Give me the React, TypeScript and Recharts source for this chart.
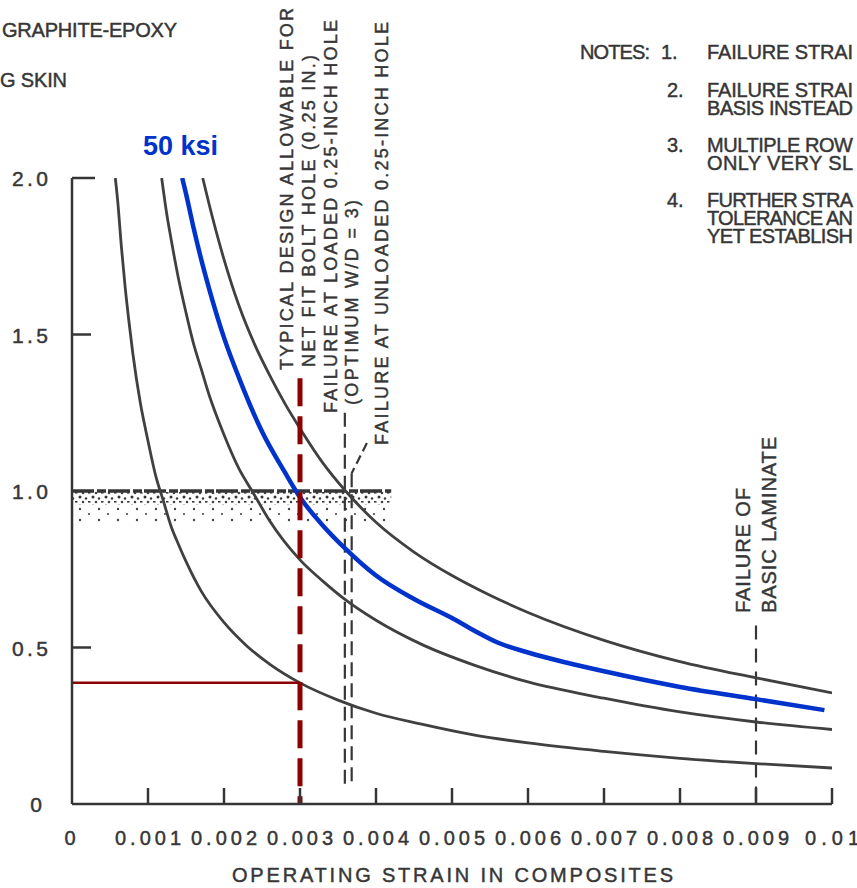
import React from 'react';
import { LineChart, Line, XAxis, YAxis, ReferenceLine, ReferenceArea } from 'recharts';

// curves (strain -> ratio)
const strainA = [0.00057, 0.0006, 0.00065, 0.0007, 0.00075, 0.0008, 0.0009, 0.001, 0.0011, 0.0012, 0.0013, 0.0014, 0.0015, 0.0017, 0.002, 0.0023, 0.0026, 0.003, 0.0035, 0.004, 0.0046, 0.0053, 0.006, 0.007, 0.008, 0.009, 0.01];
const ratioA = [2.0, 1.93, 1.78, 1.65, 1.54, 1.44, 1.28, 1.16, 1.05, 0.97, 0.89, 0.83, 0.775, 0.68, 0.58, 0.505, 0.447, 0.387, 0.332, 0.29, 0.255, 0.22, 0.195, 0.168, 0.146, 0.129, 0.115];

const strainB = [0.00118, 0.00125, 0.0013, 0.0014, 0.0015, 0.0016, 0.0017, 0.0018, 0.002, 0.0022, 0.00237, 0.0026, 0.003, 0.0033, 0.0036, 0.004, 0.0046, 0.0053, 0.006, 0.007, 0.008, 0.009, 0.01];
const ratioB = [2.0, 1.88, 1.81, 1.68, 1.57, 1.47, 1.39, 1.31, 1.18, 1.07, 1.0, 0.905, 0.78, 0.712, 0.652, 0.587, 0.51, 0.443, 0.39, 0.338, 0.294, 0.262, 0.238];

const strain50ksi = [0.00145, 0.0015, 0.0016, 0.0017, 0.0018, 0.002, 0.0022, 0.0025, 0.0028, 0.003, 0.0033, 0.0036, 0.004, 0.0045, 0.005, 0.0053, 0.0056, 0.006, 0.0065, 0.007, 0.008, 0.009, 0.0099];
const ratio50ksi = [2.0, 1.95, 1.84, 1.74, 1.65, 1.49, 1.36, 1.19, 1.06, 0.98, 0.89, 0.815, 0.73, 0.655, 0.594, 0.553, 0.516, 0.484, 0.452, 0.424, 0.374, 0.335, 0.3];

const strainD = [0.00172, 0.0018, 0.002, 0.0022, 0.0024, 0.0026, 0.0028, 0.003, 0.0033, 0.0036, 0.004, 0.0045, 0.005, 0.0055, 0.006, 0.007, 0.008, 0.009, 0.01];
const ratioD = [2.0, 1.92, 1.74, 1.59, 1.47, 1.37, 1.28, 1.2, 1.09, 1.0, 0.9, 0.805, 0.73, 0.667, 0.612, 0.523, 0.455, 0.403, 0.355];

const xTicks = [0, 0.001, 0.002, 0.003, 0.004, 0.005, 0.006, 0.007, 0.008, 0.009, 0.01];
const xTickLabels = ['0', '0.001', '0.002', '0.003', '0.004', '0.005', '0.006', '0.007', '0.008', '0.009', '0.01'];
const yTicks = [0, 0.5, 1, 1.5, 2];
const yTickLabels = ['0', '0.5', '1.0', '1.5', '2.0'];

const noteNumbers = ['1.', '2.', '3.', '4.'];
const noteLines = [
  ['FAILURE STRAI'],
  ['FAILURE STRAI', 'BASIS INSTEAD'],
  ['MULTIPLE ROW', 'ONLY VERY SL'],
  ['FURTHER STRA', 'TOLERANCE AN', 'YET ESTABLISH'],
];

// annotation positions
const designStrain = 0.003;
const designTop = 1.36;
const designRatio = 0.387;
const loadedHoleStrain = 0.00359;
const unloadedHoleStrain = 0.00368;
const laminateStrain = 0.009;
const bandEnd = 0.0042;

const toPoints = (xs: number[], ys: number[]) => xs.map((x, i) => ({ x, y: ys[i] }));

const ink = '#363636';
const font = '"Liberation Sans", Arial, sans-serif';
const bold = { stroke: ink, strokeWidth: 0.45 };

const XTick = (props: any) => {
  const { x, y, index } = props;
  const label = xTickLabels[index];
  return (
    <g>
      {index > 0 && <line x1={x} x2={x} y1={y} y2={y - 16} stroke={ink} strokeWidth={2.5} />}
      <text x={index === 0 ? x - 2 : x} y={y + 41} textAnchor="middle" fontFamily={font} fontSize={20} fill={ink} {...bold}
        textLength={label.length > 2 ? (label.length > 4 ? 66 : 54) : undefined} lengthAdjust="spacing">
        {label}
      </text>
    </g>
  );
};

const YTick = (props: any) => {
  const { x, y, index } = props;
  const label = yTickLabels[index];
  return (
    <g>
      {index > 0 && index !== 2 && (
        <line x1={x} x2={x + (index === 4 ? 23 : 19)} y1={y} y2={y} stroke={ink} strokeWidth={2.5} />
      )}
      <text x={index === 0 ? x - 30 : x - 24} y={y + 8} textAnchor="end" fontFamily={font} fontSize={21} fill={ink} {...bold}
        textLength={label.length > 1 ? 36 : undefined} lengthAdjust="spacing">
        {label}
      </text>
    </g>
  );
};

const VText = ({ x, y, len, size = 18, children }: any) => (
  <text x={x} y={y} transform={`rotate(-90 ${x} ${y})`} fontFamily={font} fontSize={size} fill={ink} {...bold}
    textLength={len} lengthAdjust="spacing">
    {children}
  </text>
);

const noteTops = [59, 97, 152, 207];

const Notes = () => (
  <g fontFamily={font} fontSize={20} fill={ink} {...bold}>
    <text x={580} y={59} textLength={70} lengthAdjust="spacing">NOTES:</text>
    {noteNumbers.map((n, i) => (
      <g key={n}>
        <text x={i === 0 ? 661 : 667} y={noteTops[i]}>{n}</text>
        {noteLines[i].map((line, j) => (
          <text key={j} x={707} y={noteTops[i] + j * 18} textLength={146} lengthAdjust="spacing">{line}</text>
        ))}
      </g>
    ))}
  </g>
);

export default function App() {
  return (
    <div style={{ position: 'absolute', left: 0, top: 0, width: 857, height: 888, background: '#fff' }}>
      <LineChart width={857} height={888} margin={{ top: 178, right: 25, left: 0, bottom: 0 }}>
        <defs>
          <pattern id="stippleDense" width="13" height="9" patternUnits="userSpaceOnUse">
            <circle cx="2" cy="2" r="1.5" fill="#333" />
            <circle cx="8" cy="3.5" r="1.2" fill="#3a3a3a" />
            <circle cx="5" cy="7" r="1.3" fill="#444" />
            <rect x="10" y="6" width="2.5" height="1.6" fill="#3a3a3a" />
          </pattern>
          <pattern id="stippleLight" width="19" height="11" patternUnits="userSpaceOnUse">
            <circle cx="4" cy="3" r="1.2" fill="#444" />
            <circle cx="13" cy="8" r="1.1" fill="#4a4a4a" />
          </pattern>
        </defs>
        <XAxis type="number" dataKey="x" domain={[0, 0.01]} ticks={xTicks} allowDataOverflow
          height={84} tickSize={0} tickMargin={0} tickLine={false} tick={XTick}
          axisLine={{ stroke: ink, strokeWidth: 2.5 }} />
        <YAxis type="number" domain={[0, 2]} ticks={yTicks} allowDataOverflow
          width={72} tickSize={0} tickMargin={0} tickLine={false} tick={YTick}
          axisLine={{ stroke: ink, strokeWidth: 2.5 }} />

        <ReferenceArea x1={0} x2={bandEnd} y1={0.955} y2={1.0} fill="url(#stippleDense)" fillOpacity={1} stroke="none" />
        <ReferenceArea x1={0} x2={bandEnd} y1={0.9} y2={0.955} fill="url(#stippleLight)" fillOpacity={1} stroke="none" />
        <ReferenceLine segment={[{ x: 0, y: 1 }, { x: bandEnd, y: 1 }]} stroke={ink} strokeWidth={3.5} strokeDasharray="22 3 9 2" />

        <ReferenceLine segment={[{ x: loadedHoleStrain, y: 1.25 }, { x: loadedHoleStrain, y: 0.054 }]} stroke={ink} strokeWidth={2.2} strokeDasharray="14 7" />
        <ReferenceLine segment={[{ x: 0.00388, y: 1.153 }, { x: unloadedHoleStrain, y: 1.057 }]} stroke={ink} strokeWidth={2.2} strokeDasharray="9 5" />
        <ReferenceLine segment={[{ x: unloadedHoleStrain, y: 1.057 }, { x: unloadedHoleStrain, y: 0.054 }]} stroke={ink} strokeWidth={2.2} strokeDasharray="14 7" />
        <ReferenceLine segment={[{ x: laminateStrain, y: 0.57 }, { x: laminateStrain, y: 0 }]} stroke={ink} strokeWidth={2.2} strokeDasharray="14 9" />

        <Line data={toPoints(strainA, ratioA)} dataKey="y" type="monotone" dot={false} stroke="#404040" strokeWidth={2.8} isAnimationActive={false} />
        <Line data={toPoints(strainB, ratioB)} dataKey="y" type="monotone" dot={false} stroke="#404040" strokeWidth={2.8} isAnimationActive={false} />
        <Line data={toPoints(strainD, ratioD)} dataKey="y" type="monotone" dot={false} stroke="#404040" strokeWidth={2.8} isAnimationActive={false} />
        <Line data={toPoints(strain50ksi, ratio50ksi)} dataKey="y" type="monotone" dot={false} stroke="#0033cc" strokeWidth={4.5} isAnimationActive={false} />

        <ReferenceLine segment={[{ x: 0, y: designRatio }, { x: designStrain, y: designRatio }]} stroke="#8b0000" strokeWidth={2.5} />
        <ReferenceLine segment={[{ x: designStrain, y: designTop }, { x: designStrain, y: 0 }]} stroke="#8b0000" strokeWidth={5} strokeDasharray="28 10" />

        {/* header texts */}
        <text x={2} y={37} fontFamily={font} fontSize={20} fill={ink} {...bold} textLength={175} lengthAdjust="spacing">GRAPHITE-EPOXY</text>
        <text x={0} y={87} fontFamily={font} fontSize={20} fill={ink} {...bold} textLength={67} lengthAdjust="spacing">G SKIN</text>
        <text x={143} y={155} fontFamily={font} fontSize={27} fontWeight="bold" fill="#0033cc" textLength={75} lengthAdjust="spacing">50 ksi</text>

        <Notes />

        <VText x={293} y={370} len={362}>TYPICAL DESIGN ALLOWABLE FOR</VText>
        <VText x={315} y={367} len={312}>NET FIT BOLT HOLE (0.25 IN.)</VText>
        <VText x={337} y={413} len={393}>FAILURE AT LOADED 0.25-INCH HOLE</VText>
        <VText x={358} y={405} len={205}>(OPTIMUM W/D = 3)</VText>
        <VText x={388} y={445} len={423}>FAILURE AT UNLOADED 0.25-INCH HOLE</VText>
        <VText x={750} y={613} len={125} size={20}>FAILURE OF</VText>
        <VText x={776} y={613} len={176} size={20}>BASIC LAMINATE</VText>

        <text x={232} y={882} fontFamily={font} fontSize={20} fill={ink} {...bold} textLength={441} lengthAdjust="spacing">OPERATING STRAIN IN COMPOSITES</text>
      </LineChart>
    </div>
  );
}
